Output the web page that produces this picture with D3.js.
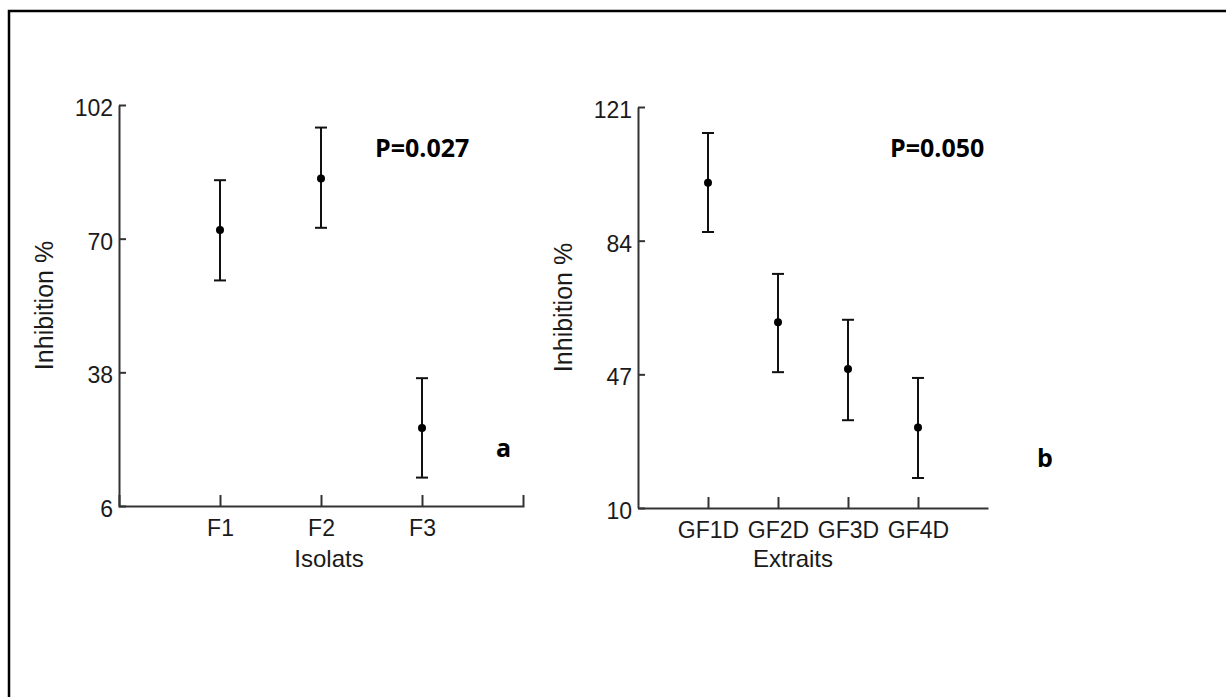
<!DOCTYPE html>
<html>
<head>
<meta charset="utf-8">
<script src="https://cdn.jsdelivr.net/npm/d3@7"></script>
<style>
  body { margin: 0; background: #fff; }
  .tick text { font-family: "Liberation Sans", Arial, sans-serif; fill: #1a1a1a; }
  .axis path, .axis line { stroke: #333; stroke-width: 2; }
</style>
</head>
<body>
<div id="chart"></div>
<script>
// panel a : isolats
const isolats = ['F1', 'F2', 'F3'];
const isolatsMean = [72.1, 84.4, 24.7];
const isolatsLow = [60.0, 72.6, 12.8];
const isolatsHigh = [84.0, 96.6, 36.6];
const isolatsTicks = [6, 38, 70, 102];

// panel b : extraits
const extraits = ['GF1D', 'GF2D', 'GF3D', 'GF4D'];
const extraitsMean = [100.0, 61.4, 48.5, 32.3];
const extraitsLow = [86.4, 47.6, 34.3, 18.3];
const extraitsHigh = [113.8, 74.8, 62.1, 46.0];
const extraitsTicks = [10, 47, 84, 121];

const W = 1226, H = 697;

const svg = d3.select('#chart').append('svg')
    .attr('width', W)
    .attr('height', H);

// frame of the figure
svg.append('rect')
    .attr('x', 9).attr('y', 11)
    .attr('width', 1400).attr('height', 900)
    .attr('fill', 'none')
    .attr('stroke', '#000')
    .attr('stroke-width', 2.5);

function panel(opts) {
    const data = opts.cats.map((c, i) => ({
        cat: c, mean: opts.mean[i], low: opts.low[i], high: opts.high[i]
    }));

    const x = d3.scalePoint()
        .domain(opts.cats)
        .range([opts.left, opts.right])
        .padding(1);

    const y = d3.scaleLinear()
        .domain(d3.extent(opts.ticks))
        .range([opts.bottom, opts.top]);

    const g = svg.append('g');

    g.append('g')
        .attr('class', 'axis')
        .attr('transform', `translate(0,${opts.bottom})`)
        .call(d3.axisBottom(x).tickSize(-11).tickSizeOuter(opts.endTick ? -11 : 0).tickPadding(14))
        .call(s => s.selectAll('text').attr('font-size', 23));

    g.append('g')
        .attr('class', 'axis')
        .attr('transform', `translate(${opts.left},0)`)
        .call(d3.axisLeft(y).tickValues(opts.ticks).tickSize(-7).tickSizeOuter(0).tickPadding(6))
        .call(s => s.selectAll('text').attr('font-size', 23).attr('dy', '0.45em'));

    // error bars
    const bars = g.selectAll('.err')
        .data(data)
        .enter()
        .append('g')
        .attr('class', 'err');

    bars.append('line')
        .attr('x1', d => x(d.cat)).attr('x2', d => x(d.cat))
        .attr('y1', d => y(d.low)).attr('y2', d => y(d.high))
        .attr('stroke', '#111').attr('stroke-width', 2);

    ['low', 'high'].forEach(k => {
        bars.append('line')
            .attr('x1', d => x(d.cat) - 6).attr('x2', d => x(d.cat) + 6)
            .attr('y1', d => y(d[k])).attr('y2', d => y(d[k]))
            .attr('stroke', '#111').attr('stroke-width', 2);
    });

    bars.append('circle')
        .attr('cx', d => x(d.cat))
        .attr('cy', d => y(d.mean))
        .attr('r', 4)
        .attr('fill', '#000');

    // axis titles
    g.append('text')
        .attr('x', (opts.left + opts.right) / 2 + opts.titleShift)
        .attr('y', 567)
        .attr('text-anchor', 'middle')
        .attr('font-family', '"Liberation Sans", Arial, sans-serif')
        .attr('font-size', 24)
        .attr('fill', '#1a1a1a')
        .text(opts.xTitle);

    g.append('text')
        .attr('transform', `translate(${opts.left - 66},${(opts.top + opts.bottom) / 2}) rotate(-90)`)
        .attr('text-anchor', 'middle')
        .attr('font-family', '"Liberation Sans", Arial, sans-serif')
        .attr('font-size', 25)
        .attr('fill', '#1a1a1a')
        .text('Inhibition %');

    // p value and panel letter
    g.append('text')
        .attr('x', opts.pX).attr('y', 157)
        .attr('font-family', '"Open Sans", sans-serif')
        .attr('font-weight', 'bold')
        .attr('font-size', 25)
        .text(opts.pText);

    g.append('text')
        .attr('x', opts.letterX).attr('y', opts.letterY)
        .attr('font-family', '"Open Sans", sans-serif')
        .attr('font-weight', 'bold')
        .attr('font-size', 25)
        .text(opts.letter);
}

panel({
    cats: isolats, mean: isolatsMean, low: isolatsLow, high: isolatsHigh, ticks: isolatsTicks,
    left: 119, right: 523, top: 105, bottom: 506, endTick: true, titleShift: 8,
    xTitle: 'Isolats', pText: 'P=0.027', pX: 375, letter: 'a', letterX: 496, letterY: 457
});

panel({
    cats: extraits, mean: extraitsMean, low: extraitsLow, high: extraitsHigh, ticks: extraitsTicks,
    left: 638, right: 988, top: 107, bottom: 508, endTick: false, titleShift: -20,
    xTitle: 'Extraits', pText: 'P=0.050', pX: 890, letter: 'b', letterX: 1037, letterY: 467
});
</script>
</body>
</html>
